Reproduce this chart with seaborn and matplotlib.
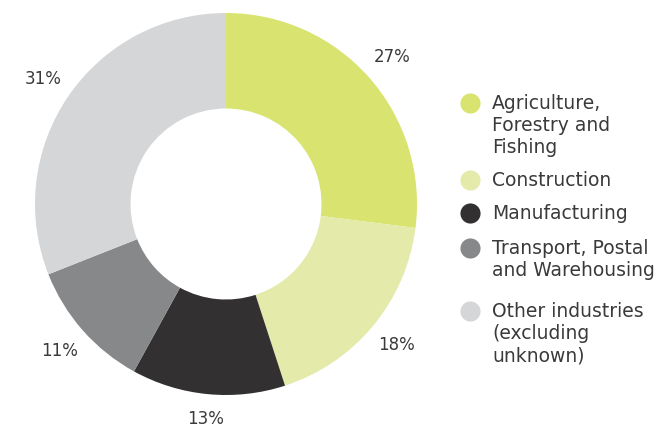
import matplotlib
matplotlib.use("Agg")
import matplotlib.pyplot as plt
import seaborn as sns

# Share of employment by industry
categories = [
    "Agriculture,\nForestry and\nFishing",
    "Construction",
    "Manufacturing",
    "Transport, Postal\nand Warehousing",
    "Other industries\n(excluding\nunknown)",
]
shares = [27, 18, 13, 11, 31]
colors = ["#D9E36F", "#E4EBAA", "#323031", "#87888A", "#D5D6D8"]

sns.set_theme(style="white")
plt.rcParams["font.family"] = ["DejaVu Sans"]
text_color = "#3a3a3a"

fig = plt.figure(figsize=(6.64, 4.32), dpi=100)
ax = fig.add_axes([0, 0, 1, 1])

palette = sns.color_palette(colors)
wedges, texts = ax.pie(
    shares,
    colors=palette,
    startangle=90,
    counterclock=False,
    radius=1.0,
    wedgeprops=dict(width=0.5, linewidth=0),
    labels=[f"{s}%" for s in shares],
    labeldistance=1.16,
    textprops=dict(fontsize=12, color=text_color),
)
for t in texts:
    t.set_horizontalalignment("center")
    t.set_verticalalignment("center")
    x, y = t.get_position()
    # pull the bottom label in slightly so it stays inside the canvas
    if y < -1.1:
        t.set_position((x * 1.13 / 1.16, y * 1.13 / 1.16))

# pixel-like frame: donut radius 191 px, centre at (226, 204) from top-left
R = 191.0
ax.set_xlim(-226 / R, 438 / R)
ax.set_ylim(-228 / R, 204 / R)
ax.set_aspect("equal")
ax.axis("off")

# Legend drawn as markers with wrapped labels
first_line_y = [103, 180, 213, 248, 311]
mx = (470 - 226) / R
tx = (492 - 226) / R
for lab, col, py in zip(categories, palette, first_line_y):
    ax.scatter([mx], [(204 - py) / R], s=210, color=col, linewidths=0,
               clip_on=False, zorder=3)
    ax.text(tx, (204 - (py - 9)) / R, lab, fontsize=13.5, color=text_color,
            ha="left", va="top", linespacing=1.2)

fig.savefig("out.png", dpi=100)
